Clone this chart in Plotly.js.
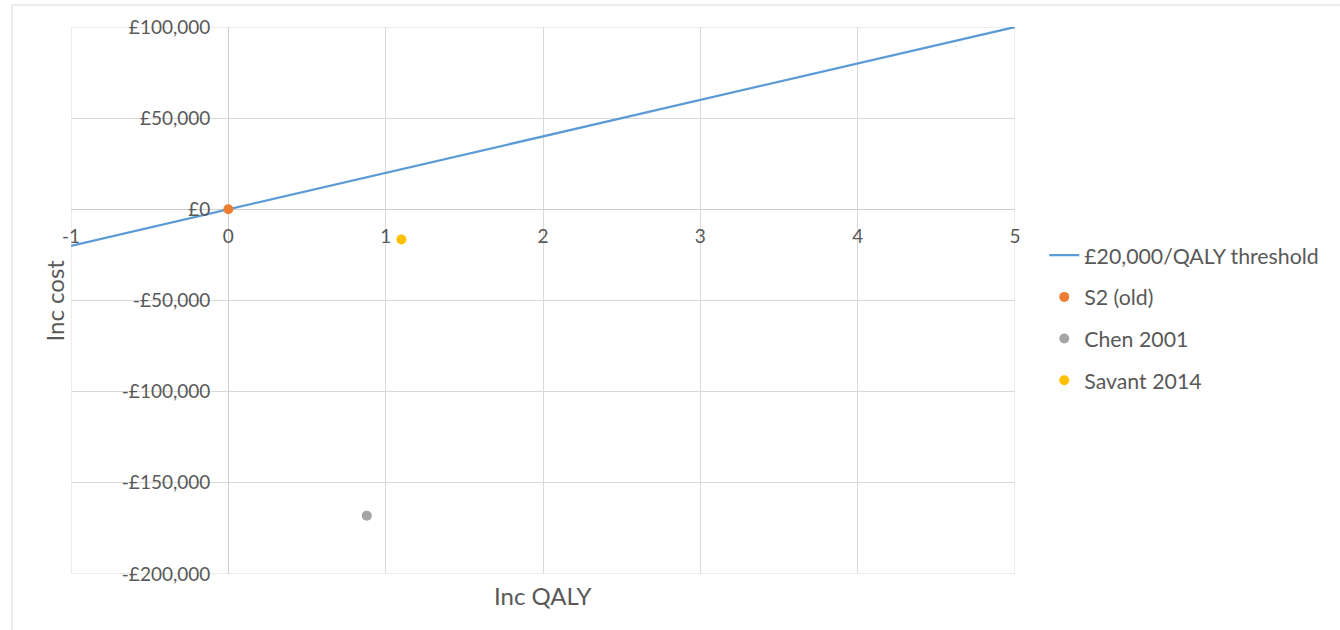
<!DOCTYPE html>
<html>
<head>
<meta charset="utf-8">
<script src="https://cdn.plot.ly/plotly-3.0.1.min.js"></script>
<style>
  html, body { margin: 0; padding: 0; background: #ffffff; }
  #chart { width: 1340px; height: 630px; }
</style>
</head>
<body>
<div id="chart"></div>
<script>
// Cost-effectiveness plane: incremental QALYs vs incremental cost
const thresholdQaly = [-1, 5];
const thresholdCost = [-20000, 100000];

const s2Qaly = [0];
const s2Cost = [0];

const chenQaly = [0.88];
const chenCost = [-168000];

const savantQaly = [1.1];
const savantCost = [-16500];

const seriesNames = ['£20,000/QALY threshold', 'S2 (old)', 'Chen 2001', 'Savant 2014'];

const xTickVals = [-1, 0, 1, 2, 3, 4, 5];
const xTickText = ['-1', '0', '1', '2', '3', '4', '5'];
const yTickVals = [100000, 50000, 0, -50000, -100000, -150000, -200000];
const yTickText = ['£100,000', '£50,000', '£0', '-£50,000', '-£100,000', '-£150,000', '-£200,000'];

const FONT = 'Lato, "Open Sans", sans-serif';
const TEXT = '#595959';
const GRID = '#d9d9d9';

const xMin = -1, xMax = 5, yMin = -200000, yMax = 100000;

const traces = [
  {
    x: thresholdQaly, y: thresholdCost, name: seriesNames[0],
    type: 'scatter', mode: 'lines', legendgroup: 'a',
    line: { color: '#5b9bd5', width: 2.25 }
  },
  {
    x: s2Qaly, y: s2Cost, name: seriesNames[1],
    type: 'scatter', mode: 'markers', legendgroup: 'b',
    marker: { color: '#ed7d31', size: 10 }
  },
  {
    x: chenQaly, y: chenCost, name: seriesNames[2],
    type: 'scatter', mode: 'markers', legendgroup: 'c',
    marker: { color: '#a5a5a5', size: 10 }
  },
  {
    x: savantQaly, y: savantCost, name: seriesNames[3],
    type: 'scatter', mode: 'markers', legendgroup: 'd',
    marker: { color: '#ffc000', size: 10 }
  }
];

const layout = {
  width: 1340,
  height: 630,
  paper_bgcolor: '#ffffff',
  plot_bgcolor: '#ffffff',
  margin: { l: 71, r: 325, t: 27, b: 56 },
  font: { family: FONT, color: TEXT },
  showlegend: true,
  hovermode: false,
  xaxis: {
    range: [xMin, xMax],
    domain: [0, 1],
    anchor: 'free',
    position: (0 - yMin) / (yMax - yMin),
    tickvals: xTickVals,
    ticktext: xTickText,
    tickfont: { family: FONT, size: 19, color: TEXT },
    ticks: '',
    ticklabelstandoff: 14,
    showgrid: true,
    gridcolor: GRID,
    gridwidth: 1,
    zeroline: true,
    zerolinecolor: '#cfcfcf',
    zerolinewidth: 1,
    showline: false,
    fixedrange: true
  },
  yaxis: {
    range: [yMin, yMax],
    domain: [0, 1],
    anchor: 'free',
    position: (0 - xMin) / (xMax - xMin),
    tickvals: yTickVals,
    ticktext: yTickText,
    tickfont: { family: FONT, size: 19, color: TEXT },
    ticks: '',
    ticklabelstandoff: 18,
    showgrid: true,
    gridcolor: GRID,
    gridwidth: 1,
    zeroline: true,
    zerolinecolor: '#cfcfcf',
    zerolinewidth: 1,
    showline: false,
    fixedrange: true
  },
  legend: {
    x: 1.031,
    xanchor: 'left',
    y: 0.62,
    yanchor: 'top',
    font: { family: FONT, size: 21.3, color: TEXT },
    traceorder: 'grouped',
    tracegroupgap: 11,
    bgcolor: 'rgba(0,0,0,0)',
    itemwidth: 30
  },
  annotations: [
    {
      text: 'Inc cost', xref: 'paper', yref: 'paper',
      x: -0.017, y: 0.5, xanchor: 'center', yanchor: 'middle',
      textangle: -90, showarrow: false,
      font: { family: FONT, size: 24, color: TEXT }
    },
    {
      text: 'Inc QALY', xref: 'paper', yref: 'paper',
      x: 0.5, y: -0.009, xanchor: 'center', yanchor: 'top',
      showarrow: false,
      font: { family: FONT, size: 24, color: TEXT }
    }
  ],
  shapes: [
    {
      // outer chart frame
      type: 'rect', xref: 'paper', yref: 'paper',
      x0: -0.0625, x1: 1.5, y0: -0.2, y1: 1.0402,
      line: { color: '#d9d9d9', width: 1 },
      fillcolor: 'rgba(0,0,0,0)',
      layer: 'below'
    },
    {
      // gridlines at the outer edges of the plot area
      type: 'rect', xref: 'x', yref: 'y',
      x0: xMin, x1: xMax, y0: yMin, y1: yMax,
      line: { color: GRID, width: 1 },
      fillcolor: 'rgba(0,0,0,0)',
      layer: 'below'
    }
  ]
};

Plotly.newPlot('chart', traces, layout, { displayModeBar: false, staticPlot: true });
</script>
</body>
</html>
